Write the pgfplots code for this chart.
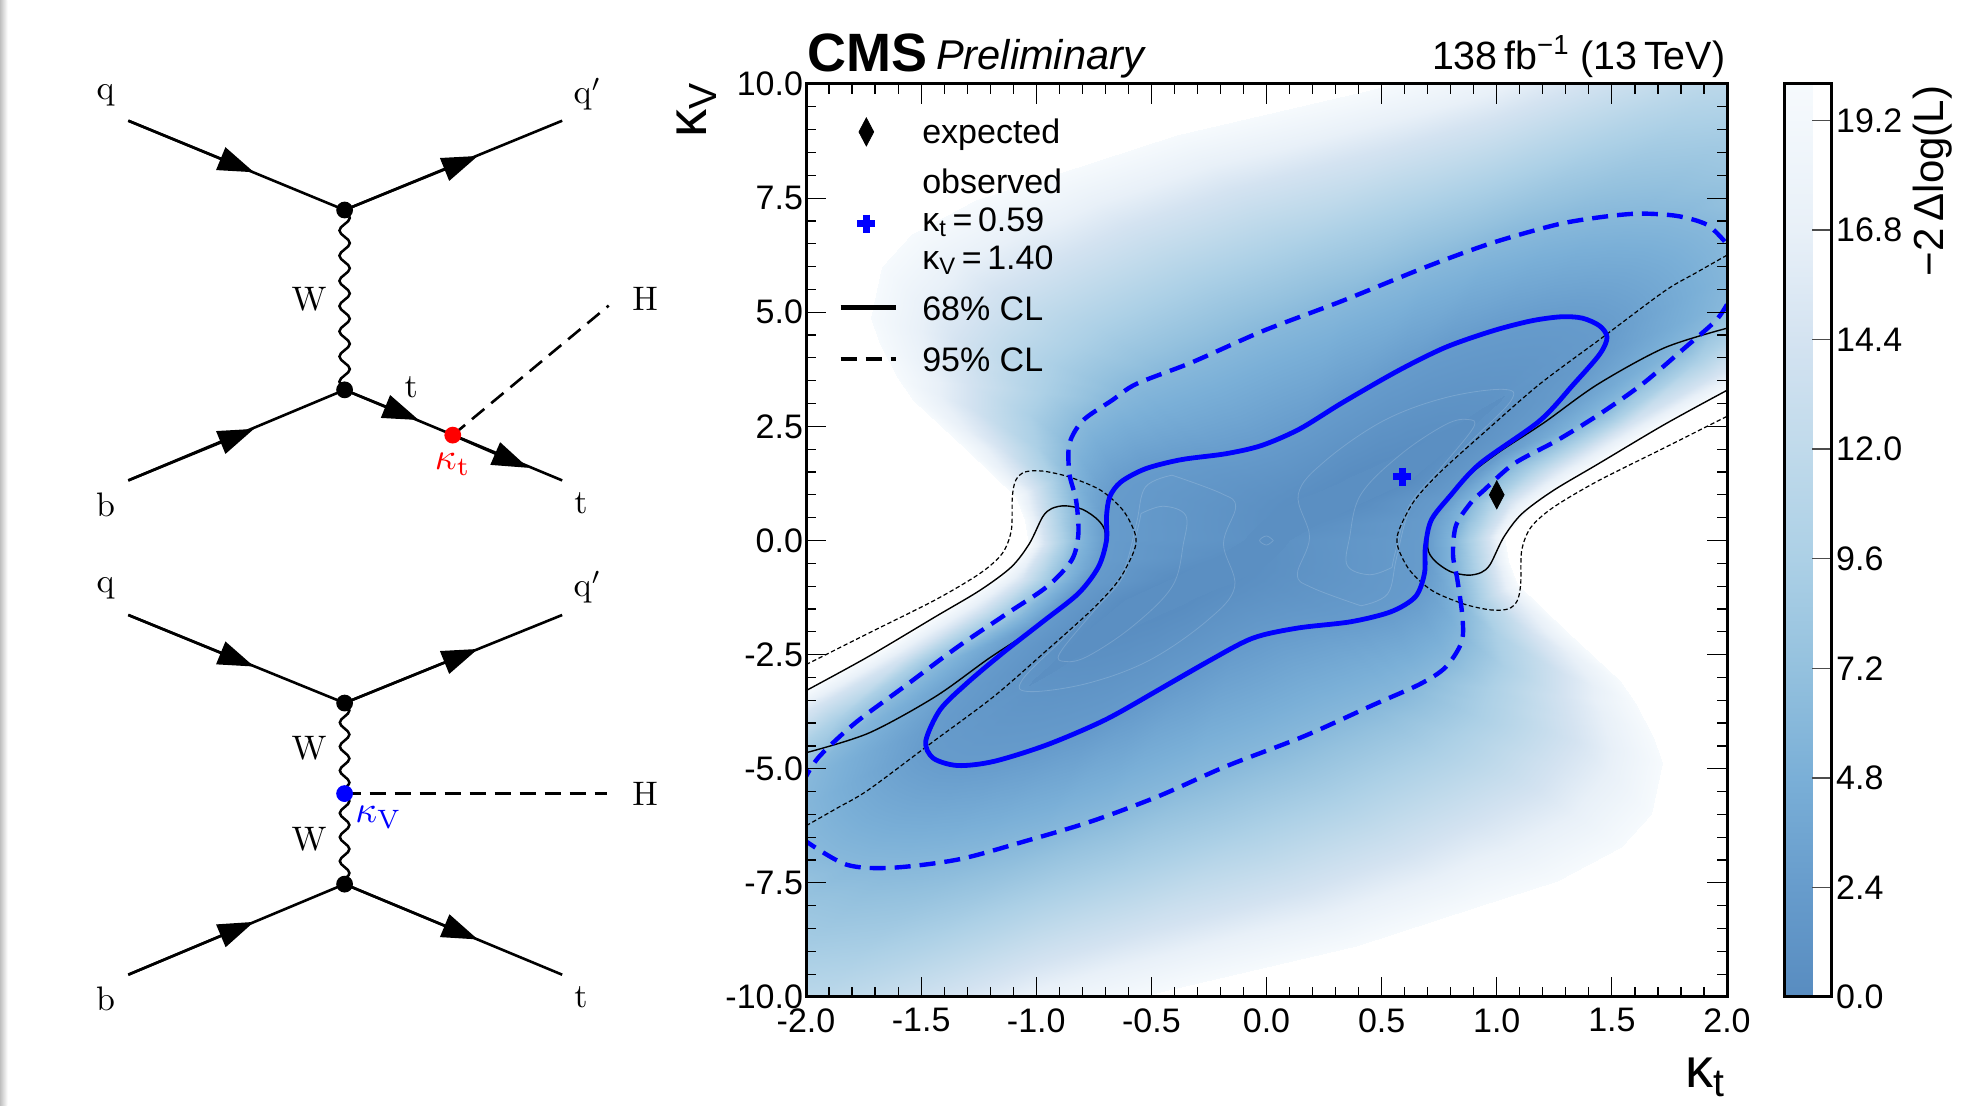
\documentclass[border=0pt]{standalone}
\usepackage[no-math]{fontspec}
\setmainfont{Liberation Sans}
\usepackage{pgfplots}
\pgfplotsset{compat=1.18}
\usetikzlibrary{arrows.meta,decorations.pathmorphing,calc}
\definecolor{fb}{RGB}{0,0,255}
\definecolor{core}{RGB}{91,143,194}
\pgfplotstableread{
x y c
-1.03 -0.10 20
-1.05 0.45 20
-1.09 0.95 20
-1.302 1.975 20
-1.534 3.07 20
-1.6 3.57 20
-1.68 4.3 20
-1.716 4.88 20
-1.67 5.99 20
-1.54 6.72 20
-1.26 7.45 20
-0.91 8.02 20
-0.39 8.89 20
0.43 9.84 20
1.0 10.6 20
1.8 12.2 20
2.5 13.5 20
3.1 13.8 20
3.6 12.8 20
3.6 10.4 20
3.3 7.8 20
3.0 6.0 20
2.5 4.6 20
1.996 3.28 20
1.633 2.3 20
1.335 1.38 20
1.149 0.75 20
1.03 0.10 20
1.05 -0.45 20
1.09 -0.95 20
1.302 -1.975 20
1.534 -3.07 20
1.6 -3.57 20
1.68 -4.3 20
1.716 -4.88 20
1.67 -5.99 20
1.54 -6.72 20
1.26 -7.45 20
0.91 -8.02 20
0.39 -8.89 20
-0.43 -9.84 20
-1.0 -10.6 20
-1.8 -12.2 20
-2.5 -13.5 20
-3.1 -13.8 20
-3.6 -12.8 20
-3.6 -10.4 20
-3.3 -7.8 20
-3.0 -6.0 20
-2.5 -4.6 20
-1.996 -3.28 20
-1.633 -2.3 20
-1.335 -1.38 20
-1.149 -0.75 20
-1.03 -0.10 20
-0.96 -0.07 14.4
-0.98 0.50 14.4
-1.01 1.12 14.4
-1.155 2.02 14.4
-1.29 2.92 14.4
-1.29 3.405 14.4
-1.32 3.9 14.4
-1.34 4.40 14.4
-1.26 4.95 14.4
-1.18 5.49 14.4
-0.9 6.2 14.4
-0.61 6.89 14.4
-0.15 7.69 14.4
0.52 8.58 14.4
0.99 9.25 14.4
1.62 10.46 14.4
2.15 11.38 14.4
2.61 11.61 14.4
3.0 10.92 14.4
3.04 9.25 14.4
2.87 7.40 14.4
2.68 5.97 14.4
2.33 4.79 14.4
1.94 3.59 14.4
1.57 2.52 14.4
1.25 1.54 14.4
1.06 0.86 14.4
0.96 0.07 14.4
0.98 -0.50 14.4
1.01 -1.12 14.4
1.155 -2.02 14.4
1.29 -2.92 14.4
1.29 -3.405 14.4
1.32 -3.9 14.4
1.34 -4.40 14.4
1.26 -4.95 14.4
1.18 -5.49 14.4
0.9 -6.2 14.4
0.61 -6.89 14.4
0.15 -7.69 14.4
-0.52 -8.58 14.4
-0.99 -9.25 14.4
-1.62 -10.46 14.4
-2.15 -11.38 14.4
-2.61 -11.61 14.4
-3.0 -10.92 14.4
-3.04 -9.25 14.4
-2.87 -7.40 14.4
-2.68 -5.97 14.4
-2.33 -4.79 14.4
-1.94 -3.59 14.4
-1.57 -2.52 14.4
-1.25 -1.54 14.4
-1.06 -0.86 14.4
-0.96 -0.07 14.4
-0.885 -0.03 9.6
-0.90 0.55 9.6
-0.93 1.30 9.6
-1.0 2.07 9.6
-1.03 2.77 9.6
-0.97 3.23 9.6
-0.95 3.56 9.6
-0.93 3.89 9.6
-0.83 4.27 9.6
-0.73 4.66 9.6
-0.52 5.17 9.6
-0.30 5.69 9.6
0.10 6.41 9.6
0.615 7.24 9.6
0.99 7.83 9.6
1.43 8.61 9.6
1.78 9.13 9.6
2.09 9.28 9.6
2.36 8.93 9.6
2.45 8.03 9.6
2.41 6.98 9.6
2.35 5.93 9.6
2.15 4.99 9.6
1.875 3.93 9.6
1.51 2.65 9.6
1.16 1.61 9.6
0.97 0.85 9.6
0.885 0.03 9.6
0.90 -0.55 9.6
0.93 -1.30 9.6
1.0 -2.07 9.6
1.03 -2.77 9.6
0.97 -3.23 9.6
0.95 -3.56 9.6
0.93 -3.89 9.6
0.83 -4.27 9.6
0.73 -4.66 9.6
0.52 -5.17 9.6
0.30 -5.69 9.6
-0.10 -6.41 9.6
-0.615 -7.24 9.6
-0.99 -7.83 9.6
-1.43 -8.61 9.6
-1.78 -9.13 9.6
-2.09 -9.28 9.6
-2.36 -8.93 9.6
-2.45 -8.03 9.6
-2.41 -6.98 9.6
-2.35 -5.93 9.6
-2.15 -4.99 9.6
-1.875 -3.93 9.6
-1.51 -2.65 9.6
-1.16 -1.61 9.6
-0.97 -0.85 9.6
-0.885 -0.03 9.6
-0.817 0.0 6
-0.827 0.6 6
-0.856 1.465 6
-0.856 2.12 6
-0.797 2.63 6
-0.671 3.07 6
-0.62 3.25 6
-0.565 3.43 6
-0.445 3.66 6
-0.325 3.90 6
-0.17 4.24 6
-0.015 4.59 6
0.33 5.25 6
0.702 6.01 6
0.981 6.52 6
1.261 6.92 6
1.447 7.08 6
1.615 7.16 6
1.782 7.11 6
1.912 6.92 6
1.987 6.60 6
2.04 5.9 6
1.99 5.17 6
1.819 4.23 6
1.447 2.77 6
1.074 1.68 6
0.888 0.83 6
0.817 0.0 6
0.827 -0.6 6
0.856 -1.465 6
0.856 -2.12 6
0.797 -2.63 6
0.671 -3.07 6
0.62 -3.25 6
0.565 -3.43 6
0.445 -3.66 6
0.325 -3.90 6
0.17 -4.24 6
0.015 -4.59 6
-0.33 -5.25 6
-0.702 -6.01 6
-0.981 -6.52 6
-1.261 -6.92 6
-1.447 -7.08 6
-1.615 -7.16 6
-1.782 -7.11 6
-1.912 -6.92 6
-1.987 -6.60 6
-2.04 -5.9 6
-1.99 -5.17 6
-1.819 -4.23 6
-1.447 -2.77 6
-1.074 -1.68 6
-0.888 -0.83 6
-0.817 0.0 6
-0.695 0.0 2.3
-0.695 0.52 2.3
-0.68 0.95 2.3
-0.633 1.28 2.3
-0.526 1.57 2.3
-0.371 1.77 2.3
-0.27 1.84 2.3
-0.177 1.90 2.3
-0.10 1.99 2.3
-0.022 2.08 2.3
0.06 2.26 2.3
0.143 2.44 2.3
0.33 3.02 2.3
0.572 3.72 2.3
0.777 4.23 2.3
0.981 4.59 2.3
1.149 4.81 2.3
1.279 4.90 2.3
1.372 4.87 2.3
1.447 4.70 2.3
1.479 4.45 2.3
1.447 4.08 2.3
1.335 3.43 2.3
1.186 2.62 2.3
1.0 1.85 2.3
0.793 0.95 2.3
0.715 0.44 2.3
0.695 0.0 2.3
0.695 -0.52 2.3
0.68 -0.95 2.3
0.633 -1.28 2.3
0.526 -1.57 2.3
0.371 -1.77 2.3
0.27 -1.84 2.3
0.177 -1.90 2.3
0.10 -1.99 2.3
0.022 -2.08 2.3
-0.06 -2.26 2.3
-0.143 -2.44 2.3
-0.33 -3.02 2.3
-0.572 -3.72 2.3
-0.777 -4.23 2.3
-0.981 -4.59 2.3
-1.149 -4.81 2.3
-1.279 -4.90 2.3
-1.372 -4.87 2.3
-1.447 -4.70 2.3
-1.479 -4.45 2.3
-1.447 -4.08 2.3
-1.335 -3.43 2.3
-1.186 -2.62 2.3
-1.0 -1.85 2.3
-0.793 -0.95 2.3
-0.715 -0.44 2.3
-0.695 0.0 2.3
-0.10 0.0 0.9
-0.08 0.15 0.8
-0.05 0.3 0.7
-0.02 0.45 0.6
0.02 0.6 0.5
0.08 0.75 0.4
0.12 0.85 0.35
0.16 0.95 0.3
0.21 1.05 0.25
0.26 1.15 0.2
0.31 1.27 0.15
0.36 1.4 0.1
0.46 1.6 0.1
0.56 1.85 0.2
0.66 2.1 0.3
0.74 2.35 0.5
0.84 2.6 0.7
0.92 2.85 0.9
1.0 3.1 1.2
1.04 3.2 1.4
1.02 3.05 1.2
0.94 2.7 0.9
0.86 2.3 0.6
0.74 1.8 0.3
0.62 1.3 0.1
0.4 0.8 0.2
0.2 0.3 0.6
0.10 0.0 0.9
0.08 -0.15 0.8
0.05 -0.3 0.7
0.02 -0.45 0.6
-0.02 -0.6 0.5
-0.08 -0.75 0.4
-0.12 -0.85 0.35
-0.16 -0.95 0.3
-0.21 -1.05 0.25
-0.26 -1.15 0.2
-0.31 -1.27 0.15
-0.36 -1.4 0.1
-0.46 -1.6 0.1
-0.56 -1.85 0.2
-0.66 -2.1 0.3
-0.74 -2.35 0.5
-0.84 -2.6 0.7
-0.92 -2.85 0.9
-1.0 -3.1 1.2
-1.04 -3.2 1.4
-1.02 -3.05 1.2
-0.94 -2.7 0.9
-0.86 -2.3 0.6
-0.74 -1.8 0.3
-0.62 -1.3 0.1
-0.4 -0.8 0.2
-0.2 -0.3 0.6
-0.10 0.0 0.9
}\nll
\tikzset{bline/.style={line width=1.3pt,black},
 wav/.style={line width=1.25pt,decorate,decoration={snake,segment length=12.6pt,amplitude=2.6pt}},
 ft/.style={scale=1.7},
 tx/.style={font=\fontsize{17}{17}\selectfont,anchor=base west,inner sep=0pt},
 faint/.style={white,opacity=0.16,line width=0.4pt,smooth,tension=0.6}}
\newcommand{\farrow}[4]{\draw[bline,-{Triangle[length=18pt,width=12pt]}] (#1,#2) -- (#3,#4);}
\begin{document}
\begin{tikzpicture}
\useasboundingbox (0,0) rectangle (986pt,553pt);
\begin{axis}[at={(403pt,54.5pt)},anchor=south west,scale only axis,width=460.5pt,height=456.5pt,
 xmin=-2,xmax=2,ymin=-10,ymax=10,axis on top,axis line style={line width=1.5pt},
 xtick={-2,-1.5,...,2},xticklabels={-2.0,-1.5,-1.0,-0.5,0.0,0.5,1.0,1.5,2.0},
 ytick={-10,-7.5,...,10},yticklabels={-10.0,-7.5,-5.0,-2.5,0.0,2.5,5.0,7.5,10.0},
 minor x tick num=4,minor y tick num=4,tick align=inside,
 major tick length=10pt,minor tick length=5pt,
 every tick/.style={black,line width=0.6pt},
 tick label style={font=\fontsize{17}{17}\selectfont,inner ysep=0pt},
 xticklabel style={yshift=-5.6pt},yticklabel style={xshift=2pt},
 colormap={kv}{rgb255(0)=(88,140,192) rgb255(24)=(103,156,204) rgb255(48)=(122,175,215) rgb255(72)=(148,193,222) rgb255(96)=(172,208,230) rgb255(120)=(192,218,235) rgb255(144)=(212,227,241) rgb255(168)=(232,240,248) rgb255(200)=(246,250,253)},
 point meta min=0,point meta max=20,
 colorbar,
 colorbar style={at={(parent axis.north east)},anchor=north west,xshift=20pt,scale only axis,width=23.5pt,height=456.5pt,
  ytick={0,2.4,4.8,7.2,9.6,12,14.4,16.8,19.2},yticklabels={0.0,2.4,4.8,7.2,9.6,12.0,14.4,16.8,19.2},
  ytick pos=right,tick align=inside,major tick length=9.5pt,minor tick length=0pt,
  every tick/.style={black!70,line width=0.7pt},
  axis line style={line width=1.5pt},
  tick label style={font=\fontsize{17}{17}\selectfont},
  yticklabel style={xshift=-1pt},
 },
]
% centre of the valley under the mesh
\addplot[fill=core,draw=none,forget plot] coordinates {(-0.695,0.0) (-0.526,1.57) (-0.022,2.08) (0.572,3.72) (1.279,4.90) (1.479,4.45) (1.186,2.62) (0.715,0.44) (0.695,0.0) (0.526,-1.57) (0.022,-2.08) (-0.572,-3.72) (-1.279,-4.90) (-1.479,-4.45) (-1.186,-2.62) (-0.715,-0.44) (-0.695,0.0)};
\addplot[surf,shader=interp,mesh/rows=6,mesh/cols=55,mesh/ordering=x varies,point meta=\thisrow{c}] table[x=x,y=y] {\nll};
% faint inner contours
\addplot[faint] coordinates {(-0.545,0.59) (-0.448,0.75) (-0.351,0.55) (-0.361,-0.07) (-0.41,-1.01) (-0.584,-1.89) (-0.778,-2.54) (-0.875,-2.65) (-0.898,-2.47) (-0.759,-1.60) (-0.623,-0.79) (-0.565,0.15) (-0.545,0.59)};
\addplot[faint] coordinates {(0.545,-0.59) (0.448,-0.75) (0.351,-0.55) (0.361,0.07) (0.41,1.01) (0.584,1.89) (0.778,2.54) (0.875,2.65) (0.898,2.47) (0.759,1.60) (0.623,0.79) (0.565,-0.15) (0.545,-0.59)};
\addplot[faint] coordinates {(-0.41,1.43) (-0.196,1.03) (-0.134,0.74) (-0.187,-0.07) (-0.138,-1.01) (-0.254,-1.74) (-0.507,-2.62) (-0.778,-3.13) (-1.03,-3.31) (-1.06,-3.05) (-0.875,-2.11) (-0.72,-1.30) (-0.62,-0.65) (-0.565,0.37) (-0.526,1.17) (-0.41,1.43)};
\addplot[faint] coordinates {(0.41,-1.43) (0.196,-1.03) (0.134,-0.74) (0.187,0.07) (0.138,1.01) (0.254,1.74) (0.507,2.62) (0.778,3.13) (1.03,3.31) (1.06,3.05) (0.875,2.11) (0.72,1.30) (0.62,0.65) (0.565,-0.37) (0.526,-1.17) (0.41,-1.43)};
\addplot[faint] coordinates {(0.03,0) (0,0.1) (-0.03,0) (0,-0.1) (0.03,0)};
% expected 95% (black dashed)
\addplot[black,line width=0.6pt,dash pattern=on 2.2pt off 1.3pt,smooth,tension=0.5] coordinates {(-2.0,-2.72) (-1.728,-2.03) (-1.438,-1.30) (-1.244,-0.72) (-1.147,-0.28) (-1.108,0.23) (-1.104,0.955) (-1.089,1.32) (-1.05,1.50) (-0.972,1.52) (-0.856,1.39) (-0.72,1.10) (-0.623,0.66) (-0.571,0.15) (-0.574,-0.21) (-0.642,-0.87) (-0.759,-1.52) (-0.953,-2.40) (-1.185,-3.42) (-1.457,-4.44) (-1.728,-5.46) (-1.864,-5.86) (-2.0,-6.25)};
\addplot[black,line width=0.6pt,dash pattern=on 2.2pt off 1.3pt,smooth,tension=0.5] coordinates {(2.0,6.25) (1.864,5.86) (1.728,5.46) (1.457,4.44) (1.185,3.42) (0.953,2.40) (0.759,1.52) (0.642,0.87) (0.574,0.21) (0.571,-0.15) (0.623,-0.66) (0.72,-1.10) (0.856,-1.39) (0.972,-1.52) (1.05,-1.50) (1.089,-1.32) (1.104,-0.955) (1.108,-0.23) (1.147,0.28) (1.244,0.72) (1.438,1.30) (1.728,2.03) (2.0,2.72)};
% expected 68% (black solid)
\addplot[black,line width=0.7pt,smooth,tension=0.5] coordinates {(-2.0,-3.29) (-1.728,-2.54) (-1.438,-1.67) (-1.244,-1.09) (-1.108,-0.58) (-1.03,-0.07) (-0.972,0.52) (-0.933,0.70) (-0.875,0.76) (-0.798,0.68) (-0.73,0.44) (-0.70,0.15) (-0.72,-0.5) (-0.85,-1.3) (-1.0,-1.9) (-1.205,-2.58) (-1.438,-3.42) (-1.728,-4.22) (-2.0,-4.65)};
\addplot[black,line width=0.7pt,smooth,tension=0.5] coordinates {(2.0,4.65) (1.728,4.22) (1.438,3.42) (1.205,2.58) (1.0,1.9) (0.85,1.3) (0.72,0.5) (0.70,-0.15) (0.73,-0.44) (0.798,-0.68) (0.875,-0.76) (0.933,-0.70) (0.972,-0.52) (1.03,0.07) (1.108,0.58) (1.244,1.09) (1.438,1.67) (1.728,2.54) (2.0,3.29)};
% observed 95% (blue dashed)
\addplot[fb,line width=2.2pt,dash pattern=on 8pt off 4.5pt,smooth,tension=0.5] coordinates {(1.99,6.55) (1.912,6.92) (1.782,7.11) (1.615,7.16) (1.447,7.08) (1.261,6.92) (0.981,6.52) (0.702,6.01) (0.33,5.25) (-0.015,4.59) (-0.325,3.90) (-0.565,3.43) (-0.671,3.07) (-0.797,2.63) (-0.856,2.12) (-0.856,1.465) (-0.827,0.88) (-0.817,0.15) (-0.846,-0.43) (-0.953,-1.01) (-1.127,-1.60) (-1.341,-2.33) (-1.573,-3.2) (-1.787,-4.0) (-1.942,-4.73) (-2.0,-5.17)};
\addplot[fb,line width=2.2pt,dash pattern=on 8pt off 4.5pt,smooth,tension=0.5] coordinates {(2.0,5.17) (1.95,4.81) (1.819,4.23) (1.633,3.43) (1.447,2.77) (1.261,2.19) (1.074,1.68) (0.944,1.1) (0.888,0.83) (0.823,0.33) (0.81,-0.31) (0.829,-0.86) (0.851,-1.68) (0.847,-2.23) (0.777,-2.78) (0.665,-3.15) (0.46,-3.61) (0.162,-4.29) (-0.177,-4.95) (-0.468,-5.6) (-0.759,-6.15) (-1.05,-6.59) (-1.341,-6.99) (-1.631,-7.17) (-1.825,-7.10) (-2.0,-6.59)};
% observed 68% (blue solid)
\addplot[fb,line width=2.4pt,smooth,tension=0.5,line join=round] coordinates {(-0.468,-3.27) (-0.254,-2.65) (-0.06,-2.14) (0.133,-1.92) (0.366,-1.78) (0.541,-1.56) (0.647,-1.23) (0.686,-0.72) (0.690,-0.14) (0.715,0.44) (0.793,0.95) (0.926,1.68) (1.186,2.62) (1.335,3.43) (1.447,4.08) (1.479,4.45) (1.447,4.70) (1.372,4.87) (1.279,4.90) (1.149,4.81) (0.981,4.59) (0.777,4.23) (0.572,3.72) (0.33,3.02) (0.143,2.44) (-0.022,2.08) (-0.177,1.90) (-0.371,1.77) (-0.526,1.57) (-0.633,1.28) (-0.681,0.955) (-0.695,0.52) (-0.695,0.0) (-0.730,-0.58) (-0.817,-1.16) (-0.972,-1.78) (-1.147,-2.47) (-1.302,-3.13) (-1.418,-3.71) (-1.480,-4.40) (-1.447,-4.77) (-1.341,-4.93) (-1.185,-4.84) (-0.953,-4.475) (-0.701,-3.93) (-0.468,-3.27) (-0.254,-2.65)};
% best-fit points
\addplot[only marks,mark=diamond*,mark size=7pt,black,mark options={xscale=0.7}] coordinates {(1.0,1.0)};
\addplot[only marks,mark=+,mark size=4.5pt,fb,mark options={line width=3.3pt}] coordinates {(0.59,1.40)};
% legend keys
\addplot[only marks,mark=diamond*,mark size=7pt,black,mark options={xscale=0.7}] coordinates {(-1.738,8.95)};
\addplot[only marks,mark=+,mark size=4.5pt,fb,mark options={line width=3.3pt}] coordinates {(-1.738,6.94)};
\addplot[black,line width=2.2pt] coordinates {(-1.85,5.1) (-1.607,5.1)};
\addplot[black,line width=2.2pt,dash pattern=on 8pt off 4.5pt] coordinates {(-1.85,3.97) (-1.607,3.97)};
\end{axis}
\begin{scope}[shift={(0,553pt)},x=0.62885pt,y=-0.62885pt]
% page edge
\shade[left color=black!25,right color=white] (0,0) rectangle (6,879);
% titles
\node[anchor=base west,inner sep=0pt,font=\fontsize{27}{27}\selectfont\bfseries] at (642,57) {CMS};
\node[anchor=base west,inner sep=0pt,font=\fontsize{20.8}{20.8}\selectfont\itshape] at (744,55) {Preliminary};
\node[anchor=base east,inner sep=0pt,font=\fontsize{19.7}{19.7}\selectfont] at (1372,55) {138\,fb\textsuperscript{−1} (13\,TeV)};
\node[anchor=base west,inner sep=0pt,font=\fontsize{28}{28}\selectfont] at (1340,865) {κ\textsubscript{t}};
\node[anchor=base west,inner sep=0pt,rotate=90,font=\fontsize{28}{28}\selectfont] at (562,110) {κ\textsubscript{V}};
\node[anchor=base east,inner sep=0pt,rotate=90,font=\fontsize{21}{21}\selectfont] at (1545,68) {−2\,Δlog(L)};
% legend text
\node[tx] at (733,114) {expected};
\node[tx] at (733,154) {observed};
\node[tx] at (733,184) {κ\textsubscript{t}\,=\,0.59};
\node[tx] at (733,214) {κ\textsubscript{V}\,=\,1.40};
\node[tx] at (733,255) {68\% CL};
\node[tx] at (733,295) {95\% CL};
% diagram 1
\draw[bline] (102,96) -- (274,167) -- (447,96);
\draw[bline] (102,382) -- (274,310) -- (447,382);
\farrow{102}{96}{202}{137}
\farrow{274}{167}{380}{124}
\farrow{102}{382}{202}{341}
\farrow{274}{310}{333}{334}
\farrow{360}{346}{420}{372}
\draw[wav] (274,167) -- (274,310);
\draw[line width=1.3pt,dash pattern=on 8pt off 4.5pt] (360,346) -- (484,243);
\fill (274,167) circle (4.2pt);
\fill (274,310) circle (4.2pt);
\fill[red] (360,346) circle (4.2pt);
\node[ft] at (84,76) {$\mathrm{q}$};
\node[ft] at (467,75) {$\mathrm{q'}$};
\node[ft] at (246,238) {$\mathrm{W}$};
\node[ft] at (327,308) {$\mathrm{t}$};
\node[ft] at (513,238) {$\mathrm{H}$};
\node[scale=1.9,red] at (360,369) {$\kappa_{\mathrm{t}}$};
\node[ft] at (84,401) {$\mathrm{b}$};
\node[ft] at (462,400) {$\mathrm{t}$};
% diagram 2
\draw[bline] (102,489) -- (274,559) -- (447,489);
\draw[bline] (102,775) -- (274,703) -- (447,775);
\farrow{102}{489}{202}{530}
\farrow{274}{559}{380}{516}
\farrow{102}{775}{202}{733}
\farrow{274}{703}{380}{747}
\draw[wav,decoration={segment length=12pt,amplitude=2.4pt}] (274,559) -- (274,631);
\draw[wav,decoration={segment length=12pt,amplitude=2.4pt}] (274,631) -- (274,703);
\draw[line width=1.3pt,dash pattern=on 8pt off 4.5pt] (274,631) -- (483,631);
\fill (274,559) circle (4.2pt);
\fill (274,703) circle (4.2pt);
\fill[fb] (274,631) circle (4.2pt);
\node[ft] at (84,468) {$\mathrm{q}$};
\node[ft] at (467,467) {$\mathrm{q'}$};
\node[ft] at (246,595) {$\mathrm{W}$};
\node[ft] at (246,667) {$\mathrm{W}$};
\node[ft] at (513,631) {$\mathrm{H}$};
\node[scale=1.9,fb] at (301,650) {$\kappa_{\mathrm{V}}$};
\node[ft] at (84,794) {$\mathrm{b}$};
\node[ft] at (462,793) {$\mathrm{t}$};
\end{scope}
\end{tikzpicture}
\end{document}
